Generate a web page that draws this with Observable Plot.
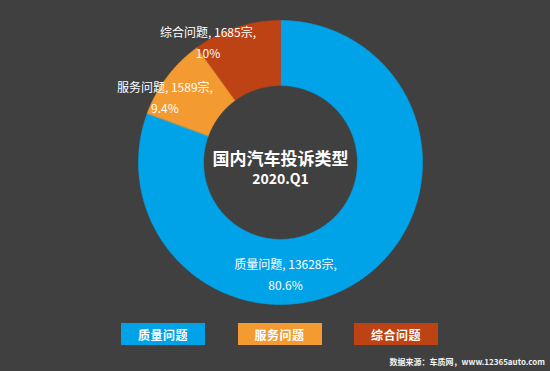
<!DOCTYPE html>
<html>
<head>
<meta charset="utf-8">
<script src="https://cdn.jsdelivr.net/npm/d3@7"></script>
<script src="https://cdn.jsdelivr.net/npm/@observablehq/plot@0.6"></script>
<style>
  html, body { margin: 0; padding: 0; background: #404040; }
  body { width: 550px; height: 371px; overflow: hidden; font-family: "Noto Sans CJK SC", "Noto Sans", sans-serif; }
  #legend { display: flex; gap: 32.5px; padding-left: 121px; margin-top: 7px; height: 22px; }
  .sw { width: 84px; height: 22px; color: #fff; font-size: 12px; font-weight: bold; letter-spacing: 0.5px;
        display: flex; align-items: center; justify-content: center; box-sizing: border-box; }
  #source { position: absolute; right: 5px; top: 356px; color: #f2f2f2; font-size: 8px; font-weight: bold; white-space: nowrap; }
</style>
</head>
<body>
<div id="chart"></div>
<div id="legend"></div>
<div id="source"></div>
<script>
// ---- data ----
const categories = ["质量问题", "服务问题", "综合问题"];
const counts = [13628, 1589, 1685];
const percentLabels = ["80.6%", "9.4%", "10%"];
const colors = ["#00a2e8", "#f39b30", "#bd4214"];
const title = "国内汽车投诉类型";
const subtitle = "2020.Q1";
const source = "数据来源：车质网，www.12365auto.com";

// ---- layout (label placement, in degrees clockwise from top / fraction of outer radius) ----
const labelAngle = [177.4, 300, 329.3];
const labelRadius = [0.78, 0.94, 1.0];
const innerRatio = 0.542;

const table = categories.map((name, i) => ({name, count: counts[i], pct: percentLabels[i], i}));
const arcs = d3.pie().sort(null).value(d => d.count)(table);

// polygon outlines for each slice
const pts = [];
for (const a of arcs) {
  const n = Math.max(8, Math.ceil((a.endAngle - a.startAngle) / (Math.PI / 360)));
  for (let k = 0; k <= n; k++) {
    const t = a.startAngle + (a.endAngle - a.startAngle) * k / n;
    pts.push({name: a.data.name, x: Math.sin(t), y: Math.cos(t)});
  }
  for (let k = n; k >= 0; k--) {
    const t = a.startAngle + (a.endAngle - a.startAngle) * k / n;
    pts.push({name: a.data.name, x: innerRatio * Math.sin(t), y: innerRatio * Math.cos(t)});
  }
}

const labels = table.map((d, i) => {
  const t = labelAngle[i] * Math.PI / 180;
  return {text: `${d.name}, ${d.count}宗,\n${d.pct}`, x: labelRadius[i] * Math.sin(t), y: labelRadius[i] * Math.cos(t)};
});

const chart = Plot.plot({
  width: 550,
  height: 316,
  margin: 0,
  style: {background: "#404040", color: "#fff", fontFamily: "'Noto Sans CJK SC', sans-serif"},
  x: {domain: [-1, 1], range: [138, 422], axis: null},
  y: {domain: [-1, 1], range: [304, 20], axis: null},
  color: {domain: categories, range: colors},
  marks: [
    Plot.line(pts, {x: "x", y: "y", z: "name", fill: "name", stroke: "name", strokeWidth: 0.6, curve: "linear-closed"}),
    Plot.text(labels, {x: "x", y: "y", text: "text", fill: "#fff", fontSize: 12, lineHeight: 1.75}),
    Plot.text([title], {x: () => 0, y: () => 0, text: d => d, fill: "#fff", fontSize: 17, fontWeight: "bold", dy: -3}),
    Plot.text([subtitle], {x: () => 0, y: () => 0, text: d => d, fill: "#fff", fontSize: 14, fontWeight: "bold", dy: 17})
  ]
});
document.getElementById("chart").appendChild(chart);

const legend = document.getElementById("legend");
categories.forEach((c, i) => {
  const el = document.createElement("div");
  el.className = "sw";
  el.style.background = colors[i];
  el.textContent = c;
  legend.appendChild(el);
});
document.getElementById("source").textContent = source;
</script>
</body>
</html>
